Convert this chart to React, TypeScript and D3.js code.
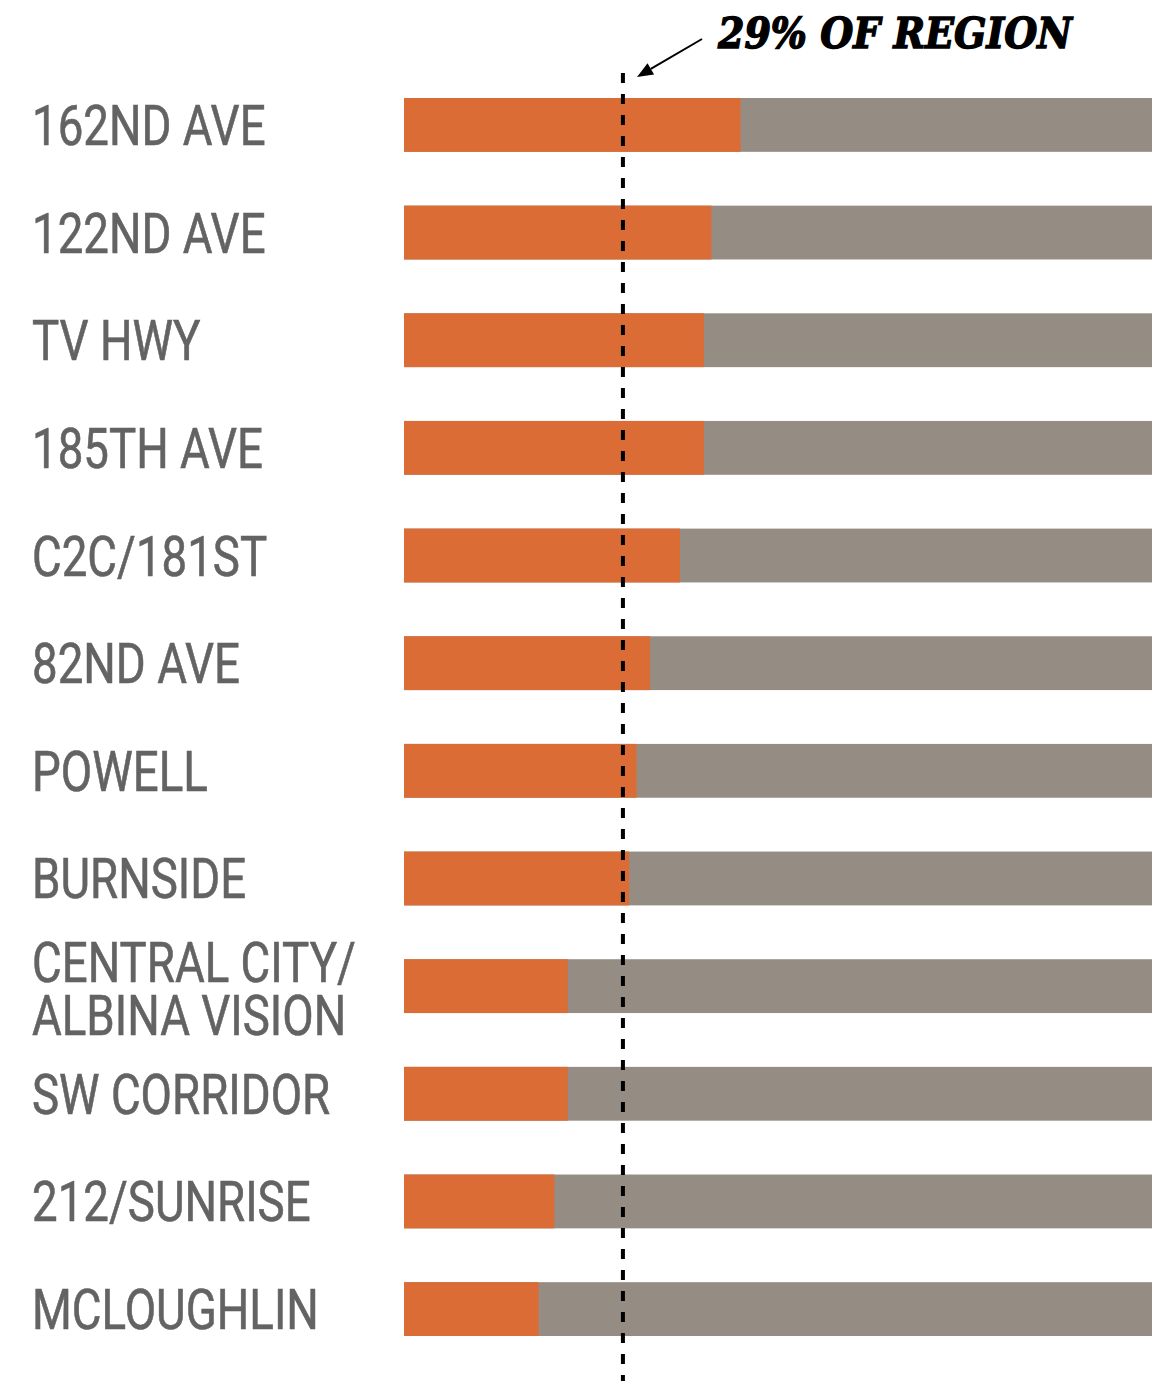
import React from "react";
import * as d3 from "d3";

const categories: string[][] = [
  ["162ND AVE"],
  ["122ND AVE"],
  ["TV HWY"],
  ["185TH AVE"],
  ["C2C/181ST"],
  ["82ND AVE"],
  ["POWELL"],
  ["BURNSIDE"],
  ["CENTRAL CITY/", "ALBINA VISION"],
  ["SW CORRIDOR"],
  ["212/SUNRISE"],
  ["MCLOUGHLIN"],
];
const shares: number[] = [0.45, 0.411, 0.401, 0.401, 0.369, 0.329, 0.311, 0.301, 0.219, 0.219, 0.201, 0.18];
const regionShare = 0.29;
const annotation = "29% OF REGION";

const W = 1167;
const H = 1381;
const ORANGE = "#DC6C36";
const GREY = "#958D83";
const LABEL = "#636363";

export default function App() {
  const keys = categories.map((c) => c.join(" "));
  const x = d3.scaleLinear().domain([0, 1]).range([404, 1152]);
  const y = d3.scaleBand<string>().domain(keys).range([98, 1336]).paddingInner(0.5).paddingOuter(0);
  const bw = y.bandwidth();
  const refX = x(regionShare) + 2;

  // arrow geometry
  const ax1 = 702, ay1 = 39, ax2 = 637, ay2 = 77;
  const ang = Math.atan2(ay2 - ay1, ax2 - ax1);
  const hl = 16, hw = 6.5;
  const bx = ax2 - hl * Math.cos(ang), by = ay2 - hl * Math.sin(ang);
  const head = [
    [ax2, ay2],
    [bx + hw * Math.sin(ang), by - hw * Math.cos(ang)],
    [bx - hw * Math.sin(ang), by + hw * Math.cos(ang)],
  ];

  const labelStyle = {
    fontFamily: "Roboto, sans-serif",
    fontSize: 55,
    fontWeight: 400,
    fill: LABEL,
    stroke: LABEL,
    strokeWidth: 0.6,
  } as const;

  return (
    <svg width={W} height={H} style={{ position: "absolute", left: 0, top: 0, background: "#fff" }}>
      {categories.map((c, i) => {
        const k = keys[i];
        const y0 = y(k)!;
        return (
          <g key={k}>
            <rect x={x(0)} y={y0} width={x(1) - x(0)} height={bw} fill={GREY} />
            <rect x={x(0)} y={y0} width={x(shares[i]) - x(0)} height={bw} fill={ORANGE} />
          </g>
        );
      })}
      {categories.map((c, i) => {
        const k = keys[i];
        const cy = y(k)! + bw / 2;
        const base = c.length === 1 ? cy + 20 : cy - 4;
        return (
          <g key={"l" + k}>
            {c.map((line, j) => (
              <text
                key={line}
                transform={`translate(32,${base + j * 53}) scale(0.83,1)`}
                style={labelStyle}
              >
                {line}
              </text>
            ))}
          </g>
        );
      })}
      <line x1={refX} x2={refX} y1={73} y2={H} stroke="#000" strokeWidth={4} strokeDasharray="10 11" />
      <line x1={ax1} y1={ay1} x2={bx} y2={by} stroke="#000" strokeWidth={2} />
      <polygon points={head.map((p) => p.join(",")).join(" ")} fill="#000" />
      <text
        x={718}
        y={48}
        fontFamily="'DejaVu Serif', serif"
        fontWeight="bold"
        fontStyle="italic"
        fontSize={42}
        textLength={354}
        lengthAdjust="spacingAndGlyphs"
        fill="#000"
        stroke="#000"
        strokeWidth={1.4}
      >
        {annotation}
      </text>
    </svg>
  );
}
